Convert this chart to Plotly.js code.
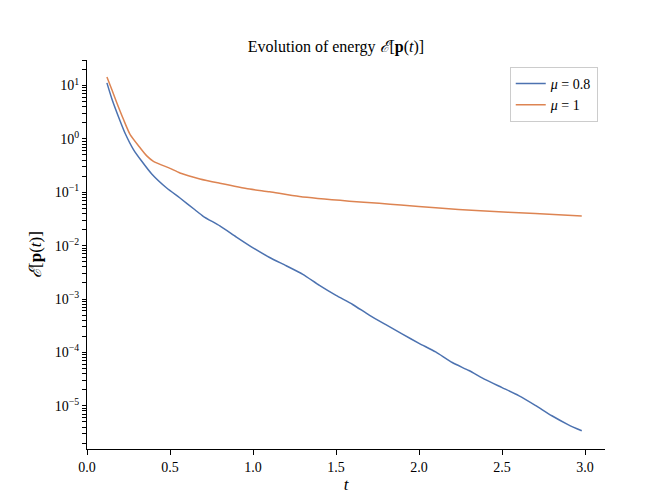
<!DOCTYPE html>
<html>
<head>
<meta charset="utf-8">
<script src="https://cdn.plot.ly/plotly-3.0.1.min.js"></script>
<style>body{margin:0;background:#fff}</style>
</head>
<body>
<div id="chart" style="width:672px;height:504px"></div>
<script>
// values (log scale)
const t_mu08 = [0.12, 0.15, 0.20, 0.23, 0.28, 0.33, 0.39, 0.48, 0.56, 0.65, 0.70, 0.80, 0.90, 1.00,
  1.10, 1.20, 1.30, 1.40, 1.50, 1.60, 1.70, 1.80, 1.90, 2.00, 2.10, 2.20, 2.30, 2.40, 2.50,
  2.60, 2.70, 2.80, 2.90, 2.98];
const E_mu08 = [11.2, 5.6, 2.14, 1.26, 0.63, 0.38, 0.22, 0.12, 0.078, 0.047, 0.0355, 0.0234, 0.0145, 0.0091,
  0.0060, 0.0042, 0.0029, 0.0018, 0.00117, 0.00079, 0.0005, 0.00033, 0.00022, 0.000148, 0.000102,
  0.0000646, 0.0000457, 0.0000309, 0.0000219, 0.0000155, 0.0000102, 0.0000065, 0.0000044, 0.0000034];

const t_mu1 = [0.12, 0.15, 0.18, 0.22, 0.26, 0.32, 0.36, 0.40, 0.50, 0.56, 0.68, 0.80, 0.98, 1.10,
  1.28, 1.58, 1.76, 1.89, 2.10, 2.37, 2.70, 2.98];
const E_mu1 = [14.5, 8.3, 4.7, 2.3, 1.2, 0.68, 0.48, 0.38, 0.28, 0.23, 0.178, 0.148, 0.115, 0.102,
  0.083, 0.068, 0.062, 0.0575, 0.051, 0.045, 0.040, 0.036];

const yDecades = [1, 0, -1, -2, -3, -4, -5, -6];
const yDecadeText = ['10<sup>1</sup>', '10<sup>0</sup>', '10<sup>−1</sup>', '10<sup>−2</sup>',
  '10<sup>−3</sup>', '10<sup>−4</sup>', '10<sup>−5</sup>', ''];

// one tick list: labelled decades plus unlabelled 2..9 steps
let yTickVals = [], yTickText = [];
yDecades.forEach((e, i) => {
  yTickVals.push(Math.pow(10, e)); yTickText.push(yDecadeText[i]);
  for (let m = 2; m <= 9; m++) { yTickVals.push(m * Math.pow(10, e)); yTickText.push(''); }
});

const serif = 'Liberation Serif, DejaVu Serif, serif';

let data = [
  {x: t_mu08, y: E_mu08, mode: 'lines', type: 'scatter', name: '<i>μ</i> = 0.8',
   line: {color: '#4c72b0', width: 1.5, shape: 'spline', smoothing: 0.6}},
  {x: t_mu1, y: E_mu1, mode: 'lines', type: 'scatter', name: '<i>μ</i> = 1',
   line: {color: '#dd8452', width: 1.5, shape: 'spline', smoothing: 0.6}}
];

let layout = {
  width: 672, height: 504,
  margin: {l: 87, r: 67, t: 60, b: 55},
  paper_bgcolor: '#fff', plot_bgcolor: '#fff',
  font: {family: serif, size: 14, color: '#000'},
  title: {text: 'Evolution of energy <i>ℰ</i>[<b>p</b>(<i>t</i>)]', font: {size: 16},
          x: 0.5, xanchor: 'center', y: 0.907, yanchor: 'middle'},
  showlegend: true,
  legend: {x: 0.986, xanchor: 'right', y: 0.982, yanchor: 'top', bgcolor: '#fff',
           bordercolor: '#cccccc', borderwidth: 1, font: {size: 14}},
  xaxis: {range: [0, 3.12], tickvals: [0, 0.5, 1, 1.5, 2, 2.5, 3], tickformat: '.1f',
          showgrid: false, zeroline: false, showline: true, linecolor: '#000', linewidth: 1,
          ticks: 'outside', ticklen: 5, tickcolor: '#000',
          title: {text: '<i>t</i>', standoff: 4}},
  yaxis: {type: 'log', range: [-5.81, 1.478], tickmode: 'array',
          tickvals: yTickVals, ticktext: yTickText,
          showgrid: false, zeroline: false, showline: true, linecolor: '#000', linewidth: 1,
          ticks: 'outside', ticklen: 4, tickcolor: '#000', tickwidth: 1,
          title: {text: '<i>ℰ</i>[<b>p</b>(<i>t</i>)]', standoff: 8}}
};

Plotly.newPlot('chart', data, layout, {displayModeBar: false});
</script>
</body>
</html>
